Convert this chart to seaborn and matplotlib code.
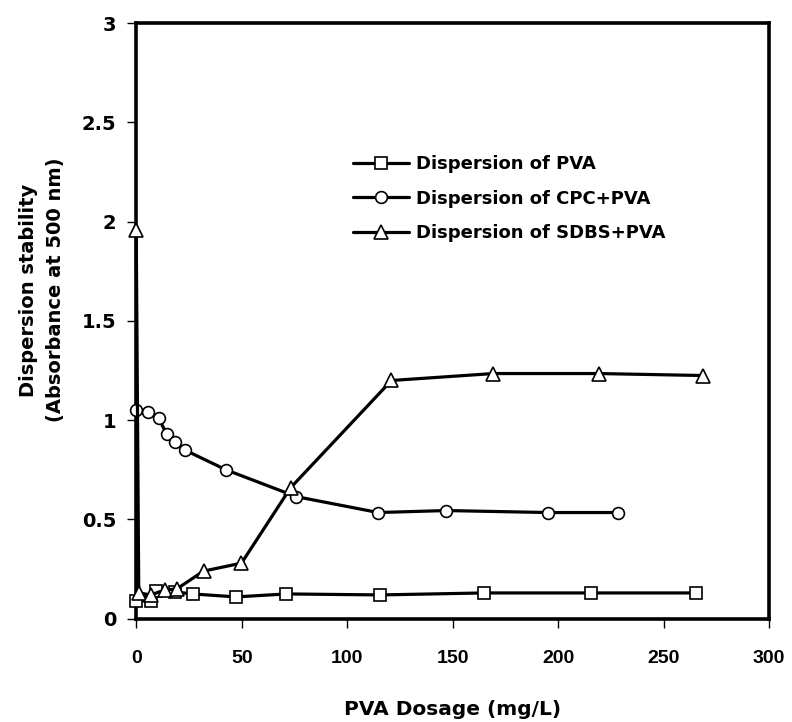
import numpy as np
import matplotlib
matplotlib.use("Agg")
import matplotlib.pyplot as plt
import seaborn as sns
import pandas as pd

# PVA dosage (mg/L) and absorbance for each dispersion
pva_x = [0, 6.8, 9.6, 18.3, 26.7, 47.3, 71.2, 115.7, 165, 215.4, 265.4]
pva_y = [0.09, 0.09, 0.14, 0.135, 0.125, 0.11, 0.125, 0.12, 0.13, 0.13, 0.13]

cpc_x = [0, 5.8, 10.6, 14.5, 18.3, 23, 42.6, 75.9, 114.7, 146.9, 195, 228.5]
cpc_y = [1.05, 1.04, 1.01, 0.93, 0.89, 0.85, 0.75, 0.615, 0.535, 0.545, 0.535, 0.535]

sdbs_x = [0, 1.2, 6.9, 13.5, 19.2, 31.9, 49.9, 73.2, 121, 169.3, 219.5, 268.8]
sdbs_y = [1.96, 0.13, 0.12, 0.145, 0.15, 0.24, 0.28, 0.66, 1.2, 1.235, 1.235, 1.225]

labels = ["Dispersion of PVA", "Dispersion of CPC+PVA", "Dispersion of SDBS+PVA"]
markers = ["s", "o", "^"]
xticks = ["0", "50", "100", "150", "200", "250", "300"]
yticks = ["0", "0.5", "1", "1.5", "2", "2.5", "3"]

sns.set_theme(style="white")
plt.rcParams['font.family'] = ['DejaVu Sans']
plt.rcParams['font.weight'] = 'bold'
plt.rcParams['text.color'] = 'black'
plt.rcParams['axes.labelcolor'] = 'black'
plt.rcParams['xtick.color'] = 'black'
plt.rcParams['ytick.color'] = 'black'

fig = plt.figure(figsize=(7.92, 7.22), dpi=100)
ax = fig.add_axes([0.172, 0.143, 0.799, 0.825])

series = [(pva_x, pva_y), (cpc_x, cpc_y), (sdbs_x, sdbs_y)]
for (xs, ys), lab, mk in zip(series, labels, markers):
    df = pd.DataFrame({"x": xs, "y": ys})
    sns.lineplot(data=df, x="x", y="y", ax=ax, sort=False, color="black",
                 linewidth=2.3, marker=mk, markersize=8.5 if mk != "^" else 10,
                 markerfacecolor="white", markeredgecolor="black",
                 markeredgewidth=1.2, label=lab, clip_on=False, zorder=3)

ax.set_xlim(0, 300)
ax.set_ylim(0, 3)
ax.set_xticks(np.arange(0, 301, 50))
ax.set_yticks(np.arange(0, 3.01, 0.5))
ax.set_xticklabels(xticks, fontsize=14, fontweight="bold",
                   family=["Liberation Sans", "DejaVu Sans"])
ax.set_yticklabels(yticks, fontsize=14, fontweight="bold")
ax.tick_params(axis="both", direction="out", length=6.5, width=1,
               bottom=True, left=True)
ax.tick_params(axis="x", pad=16)
ax.tick_params(axis="y", pad=8)

for s in ax.spines.values():
    s.set_visible(True)
    s.set_color("black")
    s.set_linewidth(2.6)
    s.set_zorder(2)

ax.set_xlabel("PVA Dosage (mg/L)", fontsize=14.5, fontweight="bold", labelpad=24)
ax.set_ylabel("Dispersion stability\n(Absorbance at 500 nm)", fontsize=14,
              fontweight="bold", linespacing=1.5)
ax.yaxis.set_label_coords(-0.113, 0.552)

leg = ax.legend(loc="upper left", bbox_to_anchor=(0.343, 0.778), frameon=False,
                prop={"size": 13, "weight": "bold"}, handlelength=3.1,
                handletextpad=0.35, labelspacing=0.9, borderpad=0,
                borderaxespad=0)

fig.savefig("out.png", dpi=100)
